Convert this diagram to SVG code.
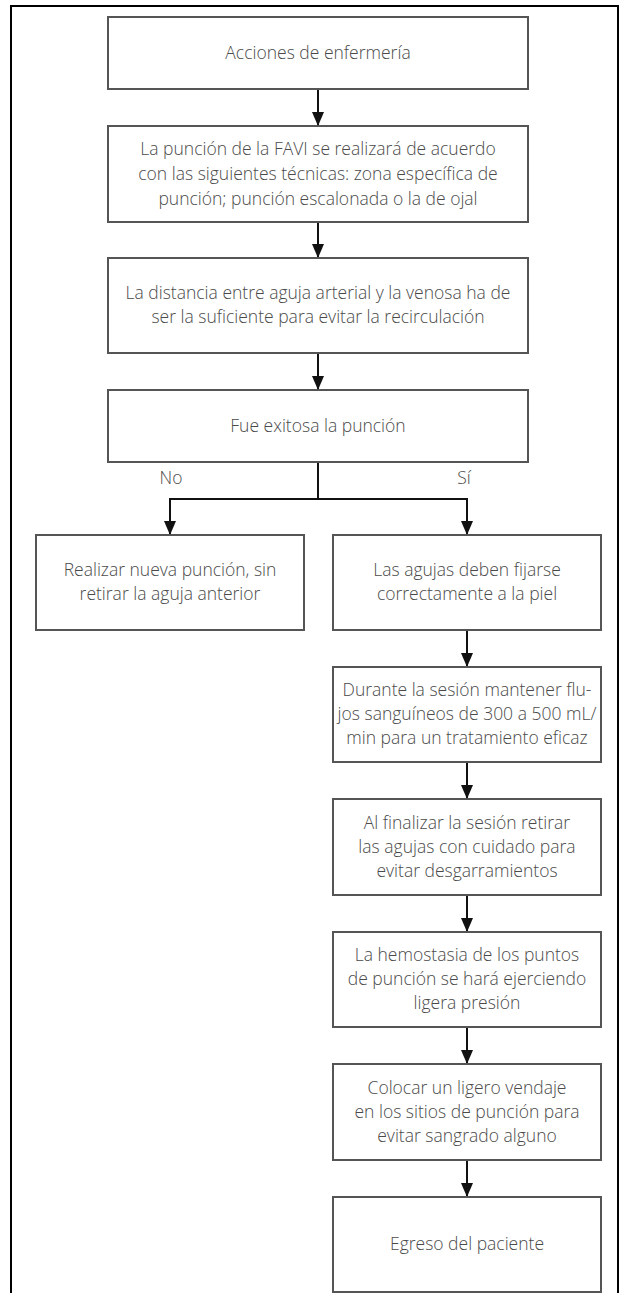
<svg xmlns="http://www.w3.org/2000/svg" width="620" height="1293" viewBox="0 0 620 1293">
<style>
.box{fill:#fff;stroke:#555;stroke-width:2}
.t{font-family:"Open Sans","Liberation Sans",sans-serif;font-size:17.5px;font-weight:300;fill:#4a4a4a;text-anchor:middle}
.c{stroke:#111;stroke-width:2;fill:none}
.frame{fill:none;stroke:#000;stroke-width:2}
</style>
<defs>
<marker id="ah" markerUnits="userSpaceOnUse" markerWidth="14" markerHeight="12" viewBox="0 0 14 12" refX="14" refY="6" orient="auto">
<path d="M0,0 L14,6 L0,12 Z" fill="#111"/>
</marker>
</defs>
<rect class="frame" x="11" y="6" width="607" height="1300"/>
<g id="connectors">
<line class="c" x1="318" y1="89" x2="318" y2="126" marker-end="url(#ah)"/>
<line class="c" x1="318" y1="222" x2="318" y2="258" marker-end="url(#ah)"/>
<line class="c" x1="318" y1="353" x2="318" y2="390" marker-end="url(#ah)"/>
<line class="c" x1="318" y1="462" x2="318" y2="499"/>
<line class="c" x1="169" y1="499" x2="468" y2="499"/>
<line class="c" x1="170" y1="499" x2="170" y2="535" marker-end="url(#ah)"/>
<line class="c" x1="467" y1="499" x2="467" y2="535" marker-end="url(#ah)"/>
<line class="c" x1="467" y1="630" x2="467" y2="667" marker-end="url(#ah)"/>
<line class="c" x1="467" y1="762" x2="467" y2="799" marker-end="url(#ah)"/>
<line class="c" x1="467" y1="895" x2="467" y2="932" marker-end="url(#ah)"/>
<line class="c" x1="467" y1="1027" x2="467" y2="1064" marker-end="url(#ah)"/>
<line class="c" x1="467" y1="1160" x2="467" y2="1197" marker-end="url(#ah)"/>
<text class="t" x="171" y="484">No</text>
<text class="t" x="464" y="484">Sí</text>
</g>
<g id="n1"><rect class="box" x="108" y="17" width="420" height="72"/>
<text class="t" x="318" y="59">Acciones de enfermería</text></g>
<g id="n2"><rect class="box" x="108" y="126" width="420" height="96"/>
<text class="t" x="318" y="155">La punción de la FAVI se realizará de acuerdo</text>
<text class="t" x="318" y="180">con las siguientes técnicas: zona específica de</text>
<text class="t" x="318" y="205">punción; punción escalonada o la de ojal</text></g>
<g id="n3"><rect class="box" x="108" y="258" width="420" height="95"/>
<text class="t" x="318" y="299">La distancia entre aguja arterial y la venosa ha de</text>
<text class="t" x="318" y="323">ser la suficiente para evitar la recirculación</text></g>
<g id="n4"><rect class="box" x="108" y="390" width="420" height="72"/>
<text class="t" x="318" y="432">Fue exitosa la punción</text></g>
<g id="n5"><rect class="box" x="36" y="535" width="268" height="95"/>
<text class="t" x="170" y="576">Realizar nueva punción, sin</text>
<text class="t" x="170" y="600">retirar la aguja anterior</text></g>
<g id="n6"><rect class="box" x="333" y="535" width="268" height="95"/>
<text class="t" x="467" y="576">Las agujas deben fijarse</text>
<text class="t" x="467" y="600">correctamente a la piel</text></g>
<g id="n7"><rect class="box" x="333" y="667" width="268" height="95"/>
<text class="t" x="467" y="696">Durante la sesión mantener flu-</text>
<text class="t" x="467" y="720">jos sanguíneos de 300 a 500 mL/</text>
<text class="t" x="467" y="744">min para un tratamiento eficaz</text></g>
<g id="n8"><rect class="box" x="333" y="799" width="268" height="96"/>
<text class="t" x="467" y="829">Al finalizar la sesión retirar</text>
<text class="t" x="467" y="853">las agujas con cuidado para</text>
<text class="t" x="467" y="877">evitar desgarramientos</text></g>
<g id="n9"><rect class="box" x="333" y="932" width="268" height="95"/>
<text class="t" x="467" y="961">La hemostasia de los puntos</text>
<text class="t" x="467" y="985">de punción se hará ejerciendo</text>
<text class="t" x="467" y="1009">ligera presión</text></g>
<g id="n10"><rect class="box" x="333" y="1064" width="268" height="96"/>
<text class="t" x="467" y="1094">Colocar un ligero vendaje</text>
<text class="t" x="467" y="1118">en los sitios de punción para</text>
<text class="t" x="467" y="1142">evitar sangrado alguno</text></g>
<g id="n11"><rect class="box" x="333" y="1197" width="268" height="95"/>
<text class="t" x="467" y="1250">Egreso del paciente</text></g>
</svg>
